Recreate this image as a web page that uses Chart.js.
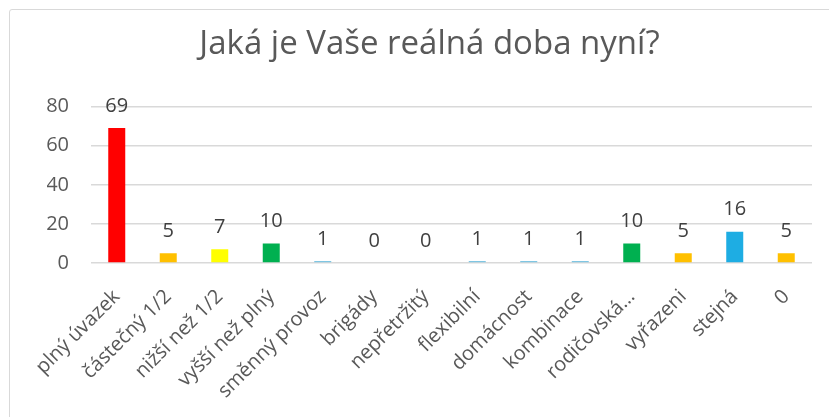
<!DOCTYPE html>
<html>
<head>
<meta charset="utf-8">
<script src="https://cdn.jsdelivr.net/npm/chart.js@4/dist/chart.umd.min.js"></script>
<style>
  html, body { margin: 0; padding: 0; background: #fff; overflow: hidden; }
  #frame {
    position: absolute; left: 9px; top: 9px; width: 900px; height: 500px;
    border: 1.5px solid #d9d9d9; border-radius: 3px;
  }
  #wrap { position: absolute; left: 0; top: 0; width: 829px; height: 417px; }
</style>
</head>
<body>
<div id="frame"></div>
<div id="wrap"><canvas id="chart" width="829" height="417"></canvas></div>
<script>
// ===== Data =====
const categories = [
  'plný úvazek', 'částečný 1/2', 'nižší než 1/2', 'vyšší než plný', 'směnný provoz',
  'brigády', 'nepřetržitý', 'flexibilní', 'domácnost', 'kombinace',
  'rodičovská…', 'vyřazeni', 'stejná', '0'
];
const counts = [69, 5, 7, 10, 1, 0, 0, 1, 1, 1, 10, 5, 16, 5];
const barColors = [
  '#ff0000', '#ffc000', '#ffff00', '#00b050', '#7fc6e3',
  '#7fc6e3', '#7fc6e3', '#7fc6e3', '#7fc6e3', '#7fc6e3',
  '#00b050', '#ffc000', '#1eade3', '#ffc000'
];
const yTicks = [0, 20, 40, 60, 80];

const FONT = "'Open Sans', 'Liberation Sans', sans-serif";
const TEXT = '#595959';

// ===== Value labels above bars =====
const valueLabels = {
  id: 'valueLabels',
  afterDatasetsDraw(chart) {
    const ctx = chart.ctx;
    const meta = chart.getDatasetMeta(0);
    ctx.save();
    ctx.font = '20px ' + FONT;
    ctx.fillStyle = '#404040';
    ctx.textAlign = 'center';
    ctx.textBaseline = 'middle';
    meta.data.forEach((bar, i) => {
      ctx.fillText(String(counts[i]), bar.x, bar.y - 22);
    });
    ctx.restore();
  }
};

// ===== Chart =====
new Chart(document.getElementById('chart'), {
  type: 'bar',
  data: {
    labels: categories,
    datasets: [{
      data: counts,
      backgroundColor: barColors,
      borderWidth: 0,
      barPercentage: 0.33,
      categoryPercentage: 1
    }]
  },
  options: {
    responsive: false,
    animation: false,
    // left padding shifts the title centre to match the original frame
    layout: { padding: { top: 0, right: 17, bottom: 0, left: 47 } },
    plugins: {
      legend: { display: false },
      tooltip: { enabled: false },
      title: {
        display: true,
        text: 'Jaká je Vaše reálná doba nyní?',
        color: TEXT,
        font: { family: FONT, size: 33, weight: 'normal' },
        padding: { top: 25, bottom: 42 }
      }
    },
    scales: {
      x: {
        grid: { display: false, drawTicks: false },
        border: { display: false },
        ticks: {
          color: TEXT,
          font: { family: FONT, size: 20 },
          minRotation: 45,
          maxRotation: 45,
          autoSkip: false,
          padding: 22
        },
        afterFit(scale) { scale.height = 154; }
      },
      y: {
        min: 0,
        max: 80,
        afterBuildTicks(scale) { scale.ticks = yTicks.map(v => ({ value: v })); },
        grid: { color: '#d9d9d9', lineWidth: 1.5, drawTicks: false },
        border: { display: false },
        ticks: {
          color: TEXT,
          font: { family: FONT, size: 20 },
          padding: 22
        },
        afterFit(scale) { scale.width = 44; }
      }
    }
  },
  plugins: [valueLabels]
});
</script>
</body>
</html>
